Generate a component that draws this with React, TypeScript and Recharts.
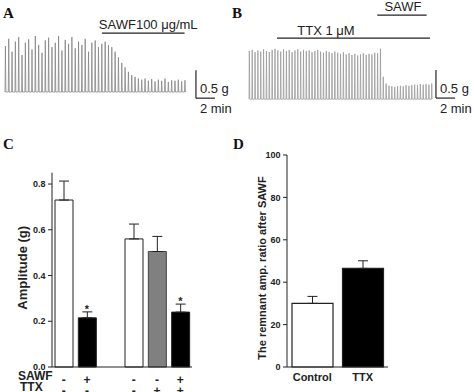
import {
  LineChart, Line, BarChart, Bar, Cell, ErrorBar, XAxis, YAxis,
  ReferenceLine, ReferenceDot, Label
} from 'recharts'

const SANS = '"Liberation Sans", Arial, sans-serif'
const SERIF = '"Liberation Serif", "Times New Roman", serif'
const INK = '#222'

// ── A: spontaneous contractions, SAWF 100 µg/mL added (peak per contraction, g)
const A_PEAKS = [
  0.82, 0.95, 0.72, 0.90, 0.98, 0.66, 0.88, 0.94, 0.76, 1.0, 0.84, 0.70, 0.92, 0.97, 0.80, 0.88,
  1.0, 0.74, 0.93, 0.86, 0.98, 0.78, 0.90, 0.84, 0.95, 0.72, 0.88, 0.92, 0.80, 0.86, 0.90, 0.84,
  0.80, 0.72, 0.62, 0.52, 0.44, 0.36, 0.30, 0.27, 0.24,
  0.22, 0.24, 0.20, 0.23, 0.19, 0.22, 0.20, 0.24, 0.18, 0.21, 0.20, 0.22, 0.19, 0.21,
]
const A_PERIOD = 0.35 // min between contractions
const A_SAWF = [10.2, 18.9] // min

// ── B: TTX 1 µM then SAWF
const B_PEAKS = [
  0.86, 0.88, 0.84, 0.87, 0.85, 0.89, 0.86, 0.84, 0.88, 0.90, 0.87, 0.85, 0.89, 0.86, 0.88, 0.84,
  0.87, 0.89, 0.85, 0.88, 0.86, 0.87, 0.84, 0.86, 0.88, 0.85, 0.83, 0.86, 0.84, 0.82, 0.85, 0.83,
  0.81, 0.84, 0.80, 0.82, 0.79, 0.81, 0.78, 0.80, 0.82, 0.79, 0.81, 0.80, 0.83, 0.82, 0.90,
  0.40, 0.28, 0.24, 0.23, 0.22, 0.23, 0.24, 0.23, 0.25, 0.24, 0.25, 0.26, 0.25, 0.27, 0.26, 0.27,
  0.26, 0.28,
]
const B_PERIOD = 0.3
const B_TTX = [2.95, 19.05]
const B_SAWF = [13.5, 18.7]

// ── C: amplitude (g)
const C_KEYS = ['c1', 'c2', 'gap', 'c3', 'c4', 'c5']
const C_AMP = [0.73, 0.215, null, 0.56, 0.505, 0.24]
const C_ERR = [0.083, 0.026, null, 0.065, 0.066, 0.035]
const C_SAWF = ['-', '+', '', '-', '-', '+']
const C_TTX = ['-', '-', '', '-', '+', '+']
const C_FILL = ['#fff', '#000', 'none', '#fff', '#808080', '#000']
const C_STAR = ['c2', 'c5']
const C_TICKS = [0, 0.1, 0.2, 0.3, 0.4, 0.5, 0.6, 0.7, 0.8]

// ── D: remnant amplitude ratio after SAWF
const D_GROUPS = ['Control', 'TTX']
const D_RATIO = [30, 46.5]
const D_ERR = [3.3, 3.6]
const D_FILL = ['#fff', '#000']
const D_TICKS = [0, 10, 20, 30, 40, 50, 60, 70, 80, 90, 100]

// sharp spike per contraction, flat baseline in between
const toTrace = (peaks: number[], period: number) =>
  peaks.flatMap((p, i) => [
    { t: i * period, v: 0 },
    { t: i * period + period * 0.12, v: p },
    { t: i * period + period * 0.26, v: 0 },
  ])

const traceA = toTrace(A_PEAKS, A_PERIOD)
const traceB = toTrace(B_PEAKS, B_PERIOD)

const cData = C_KEYS.map((key, i) => ({
  key, amp: C_AMP[i], err: C_ERR[i] == null ? null : [0, C_ERR[i]],
}))
const dData = D_GROUPS.map((name, i) => ({ name, ratio: D_RATIO[i], err: [0, D_ERR[i]] }))

const lbl = { fontFamily: SANS, fontSize: 13, fill: INK }

// label placed relative to the reference line's box (fx/fy = fraction of box, dx/dy = px to baseline)
const tag = (value: string, fx: number, fy: number, dx: number, dy: number, anchor = 'middle') =>
  ({ viewBox }: any) => (
    <text x={viewBox.x + (viewBox.width || 0) * fx + dx} y={viewBox.y + (viewBox.height || 0) * fy + dy}
      textAnchor={anchor} {...lbl}>{value}</text>
  )

// rotated axis title centred at (cx, cy) of the axis box
const vTitle = (value: string, size: number, cx: number, cy: number) =>
  ({ viewBox }: any) => {
    const x = viewBox.x + cx
    const y = viewBox.y + viewBox.height / 2 + cy
    return (
      <text x={x} y={y} transform={`rotate(-90 ${x} ${y})`} textAnchor="middle" dominantBaseline="central"
        fontSize={size} fontWeight="bold" fontFamily={SANS} fill={INK}>{value}</text>
    )
  }

const yTick = (isMajor: (v: number) => boolean, fmt: (v: number) => string) => (props: any) => {
  const { x, y, payload } = props
  const major = isMajor(payload.value)
  return (
    <g>
      <line x1={x - (major ? 4 : 2.5)} x2={x} y1={y} y2={y} stroke={INK} strokeWidth={1} />
      {major && (
        <text x={x - 6.5} y={y} dy={3.2} textAnchor="end" fontSize={9} fontWeight="bold"
          fontFamily={SANS} fill={INK}>{fmt(payload.value)}</text>
      )}
    </g>
  )
}

const SignTick = (props: any) => {
  const { x, y, payload } = props
  const i = C_KEYS.indexOf(payload.value)
  return (
    <g fontFamily={SANS} fontWeight="bold" fontSize={12} fill={INK} textAnchor="middle">
      <text x={x} y={y + 14.5}>{C_SAWF[i]}</text>
      <text x={x} y={y + 25.5}>{C_TTX[i]}</text>
    </g>
  )
}

export default function App() {
  return (
    <div style={{ position: 'absolute', left: 0, top: 0, width: 474, height: 392, background: '#fff', overflow: 'hidden' }}>
      {/* A */}
      <div style={{ position: 'absolute', left: 0, top: 0 }}>
        <LineChart width={240} height={122} data={traceA} margin={{ top: 8, right: 7, left: 5, bottom: 2 }}>
          <XAxis type="number" dataKey="t" domain={[0, 24]} hide />
          <YAxis type="number" domain={[-0.5, 1.5]} hide allowDataOverflow />
          <Line dataKey="v" type="linear" stroke="#858585" strokeWidth={0.8} dot={false} isAnimationActive={false} />
          <ReferenceLine segment={[{ x: A_SAWF[0], y: 1.05 }, { x: A_SAWF[1], y: 1.05 }]} stroke={INK} strokeWidth={1.2}>
            <Label content={tag('SAWF100 μg/mL', 0.5, 0, 5, -4.5)} />
          </ReferenceLine>
          <ReferenceLine segment={[{ x: 20.1, y: -0.11 }, { x: 20.1, y: 0.39 }]} stroke={INK} strokeWidth={1.2}>
            <Label content={tag('0.5 g', 0, 1, 4, -5.5, 'start')} />
          </ReferenceLine>
          <ReferenceLine segment={[{ x: 20.1, y: -0.11 }, { x: 22.1, y: -0.11 }]} stroke={INK} strokeWidth={1.2}>
            <Label content={tag('2 min', 0, 0, 4, 15, 'start')} />
          </ReferenceLine>
        </LineChart>
      </div>

      {/* B */}
      <div style={{ position: 'absolute', left: 240, top: 0 }}>
        <LineChart width={234} height={118} data={traceB} margin={{ top: 4, right: 16, left: 9, bottom: 2 }}>
          <XAxis type="number" dataKey="t" domain={[0, 22]} hide />
          <YAxis type="number" domain={[-0.3, 1.7]} hide allowDataOverflow />
          <Line dataKey="v" type="linear" stroke="#9a9a9a" strokeWidth={0.8} dot={false} isAnimationActive={false} />
          <ReferenceLine segment={[{ x: B_SAWF[0], y: 1.5 }, { x: B_SAWF[1], y: 1.5 }]} stroke={INK} strokeWidth={1.2}>
            <Label content={tag('SAWF', 0.5, 0, 1, -4)} />
          </ReferenceLine>
          <ReferenceLine segment={[{ x: B_TTX[0], y: 1.09 }, { x: B_TTX[1], y: 1.09 }]} stroke={INK} strokeWidth={1.2}>
            <Label content={tag('TTX 1 μM', 0.5, 0, -27.5, -3)} />
          </ReferenceLine>
          <ReferenceLine segment={[{ x: 19.68, y: 0.02 }, { x: 19.68, y: 0.52 }]} stroke={INK} strokeWidth={1.2}>
            <Label content={tag('0.5 g', 0, 1, 4, -5.5, 'start')} />
          </ReferenceLine>
          <ReferenceLine segment={[{ x: 19.68, y: 0.02 }, { x: 21.68, y: 0.02 }]} stroke={INK} strokeWidth={1.2}>
            <Label content={tag('2 min', 0, 0, 4, 15, 'start')} />
          </ReferenceLine>
        </LineChart>
      </div>

      {/* C */}
      <div style={{ position: 'absolute', left: 0, top: 140 }}>
        <BarChart width={237} height={252} data={cData} margin={{ top: 32.6, right: 45, left: 0, bottom: 0 }} barSize={18}>
          <XAxis dataKey="key" type="category" height={25} interval={0} tickLine={false} tickSize={0}
            axisLine={{ stroke: INK }} tick={SignTick} />
          <YAxis type="number" width={52} domain={[0, 0.85]} ticks={C_TICKS} tickLine={false} tickSize={0}
            tickMargin={0} axisLine={{ stroke: INK }}
            tick={yTick(v => Math.round(v * 10) % 2 === 0, v => v.toFixed(1))}>
            <Label content={vTitle('Amplitude (g)', 13, 23, -2)} />
          </YAxis>
          <Bar dataKey="amp" isAnimationActive={false}>
            {cData.map((d, i) => (
              <Cell key={d.key} fill={C_FILL[i]} stroke={C_FILL[i] === 'none' ? 'none' : i === 4 ? '#444' : INK} strokeWidth={1} />
            ))}
            <ErrorBar dataKey="err" direction="y" width={5} stroke={INK} strokeWidth={1} />
          </Bar>
          {C_STAR.map(k => {
            const i = C_KEYS.indexOf(k)
            return (
              <ReferenceDot key={k} x={k} y={(C_AMP[i] as number) + (C_ERR[i] as number)} r={0}
                fill="none" stroke="none"
                label={{ value: '*', position: 'top', offset: -1, fontSize: 11, fontWeight: 'bold', fontFamily: SANS, fill: INK }} />
            )
          })}
        </BarChart>
      </div>

      {/* D */}
      <div style={{ position: 'absolute', left: 237, top: 140 }}>
        <BarChart width={237} height={252} data={dData} margin={{ top: 15, right: 86, left: 0, bottom: 0 }} barSize={41}>
          <XAxis dataKey="name" type="category" height={25} tickLine={false} tickSize={0} tickMargin={6}
            axisLine={{ stroke: INK }} tick={{ fontSize: 11, fontWeight: 'bold', fontFamily: SANS, fill: INK }} />
          <YAxis type="number" width={50} domain={[0, 100]} ticks={D_TICKS} tickLine={false} tickSize={0}
            tickMargin={0} axisLine={{ stroke: INK }}
            tick={yTick(v => v % 20 === 0, v => String(v))}>
            <Label content={vTitle('The remnant amp. ratio after SAWF', 11, 25, 7)} />
          </YAxis>
          <Bar dataKey="ratio" isAnimationActive={false}>
            {dData.map((d, i) => (
              <Cell key={d.name} fill={D_FILL[i]} stroke={INK} strokeWidth={1.2} />
            ))}
            <ErrorBar dataKey="err" direction="y" width={5} stroke={INK} strokeWidth={1} />
          </Bar>
        </BarChart>
      </div>

      {/* panel letters and row labels */}
      <svg width={474} height={392} style={{ position: 'absolute', left: 0, top: 0, pointerEvents: 'none' }}>
        <g fontFamily={SERIF} fontWeight="bold" fontSize={15} fill="#111">
          <text x={3} y={18}>A</text>
          <text x={232} y={18}>B</text>
          <text x={3} y={149}>C</text>
          <text x={233} y={149}>D</text>
        </g>
        <g fontFamily={SANS} fontWeight="bold" fontSize={12} fill={INK}>
          <text x={18} y={380}>SAWF</text>
          <text x={20} y={391}>TTX</text>
        </g>
      </svg>
    </div>
  )
}
